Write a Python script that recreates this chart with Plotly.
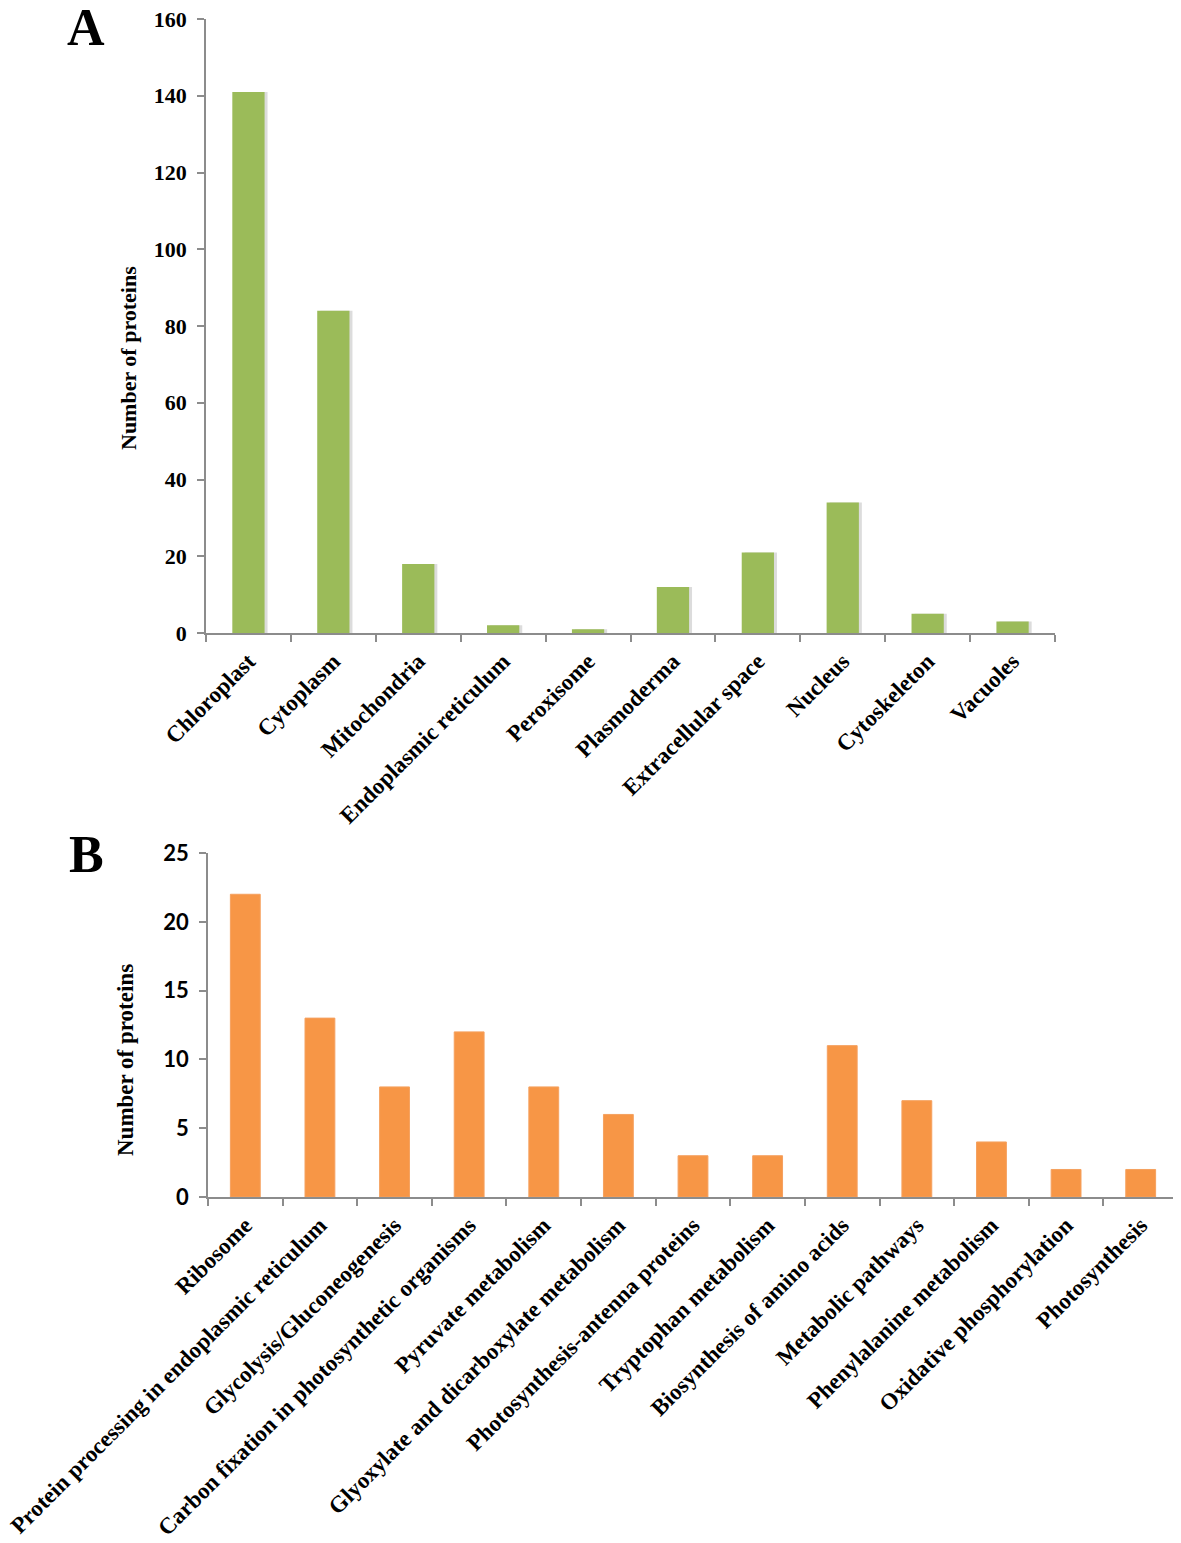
import plotly.graph_objects as go

# Panel A data
loc_categories = ["Chloroplast", "Cytoplasm", "Mitochondria", "Endoplasmic reticulum",
                  "Peroxisome", "Plasmoderma", "Extracellular space", "Nucleus",
                  "Cytoskeleton", "Vacuoles"]
loc_values = [141, 84, 18, 2, 1, 12, 21, 34, 5, 3]
loc_ticks = [0, 20, 40, 60, 80, 100, 120, 140, 160]

# Panel B data
path_categories = ["Ribosome", "Protein processing in endoplasmic reticulum",
                   "Glycolysis/Gluconeogenesis", "Carbon fixation in photosynthetic organisms",
                   "Pyruvate metabolism", "Glyoxylate and dicarboxylate metabolism",
                   "Photosynthesis-antenna proteins", "Tryptophan metabolism",
                   "Biosynthesis of amino acids", "Metabolic pathways",
                   "Phenylalanine metabolism", "Oxidative phosphorylation", "Photosynthesis"]
path_values = [22, 13, 8, 12, 8, 6, 3, 3, 11, 7, 4, 2, 2]
path_ticks = [0, 5, 10, 15, 20, 25]

OFF = 8  # page body margin
W, H = 1181 - OFF, 1543 - OFF
serif = "Liberation Serif"
sans = "Lato"

fig = go.Figure()
# soft shadow behind the green bars
fig.add_trace(go.Bar(x=loc_categories, y=loc_values, marker=dict(color="#dcdcdc", line=dict(width=0)),
                     width=0.38, offset=-0.19 + 0.035, xaxis="x", yaxis="y", showlegend=False,
                     hoverinfo="skip"))
fig.add_trace(go.Bar(x=loc_categories, y=loc_values, marker=dict(color="#9BBB59", line=dict(width=0)),
                     width=0.38, offset=-0.19, xaxis="x", yaxis="y", showlegend=False))
fig.add_trace(go.Bar(x=path_categories, y=path_values,
                     marker=dict(color="#F79646", line=dict(width=1, color="#f5a15f")),
                     width=0.4, offset=-0.2, xaxis="x2", yaxis="y2", showlegend=False))

def px(x):
    return (x - OFF) / W

def py(y):
    return 1 - (y - OFF) / H

axcol = "#8c8c8c"
common_x = dict(showgrid=False, showline=True, linecolor=axcol, linewidth=1.5, automargin=False,
                ticks="outside", tickson="boundaries", ticklen=7, tickcolor=axcol, tickwidth=1.5,
                tickangle=-45, ticklabelstandoff=4, ticklabeloverflow="allow",
                tickfont=dict(family=serif, size=23, color="black", weight=700),
                zeroline=False)
common_y = dict(showgrid=False, showline=True, linecolor=axcol, linewidth=1.5, automargin=False,
                ticks="outside", ticklen=7, tickcolor=axcol, tickwidth=1.5, zeroline=False,
                ticklabelstandoff=6, ticklabeloverflow="allow")

fig.update_layout(
    width=W, height=H,
    margin=dict(l=0, r=0, t=0, b=0),
    paper_bgcolor="white", plot_bgcolor="white",
    barmode="overlay",
    xaxis=dict(domain=[px(206), px(1055)], anchor="y", **common_x),
    yaxis=dict(domain=[py(633), py(19)], anchor="x", range=[0, 160], tickvals=loc_ticks,
               tickfont=dict(family=serif, size=22, color="black", weight=700), **common_y),
    xaxis2=dict(domain=[px(208), px(1178)], anchor="y2", **common_x),
    yaxis2=dict(domain=[py(1197), py(853)], anchor="x2", range=[0, 25], tickvals=path_ticks,
                tickfont=dict(family=sans, size=22, color="black", weight=700), **common_y),
    annotations=[
        dict(text="A", x=px(86), y=py(46), xref="paper", yref="paper", showarrow=False,
             font=dict(family=serif, size=52, color="black", weight=700), xanchor="center", yanchor="bottom",
             yshift=-12),
        dict(text="B", x=px(86), y=py(873), xref="paper", yref="paper", showarrow=False,
             font=dict(family=serif, size=52, color="black", weight=700), xanchor="center", yanchor="bottom",
             yshift=-12),
        dict(text="Number of proteins", x=px(128), y=py(358), xref="paper", yref="paper", showarrow=False,
             textangle=-90, font=dict(family=serif, size=22, color="black", weight=700),
             xanchor="center", yanchor="middle"),
        dict(text="Number of proteins", x=px(125), y=py(1060), xref="paper", yref="paper", showarrow=False,
             textangle=-90, font=dict(family=serif, size=23, color="black", weight=700),
             xanchor="center", yanchor="middle"),
    ],
)

fig.write_html("out.html")
